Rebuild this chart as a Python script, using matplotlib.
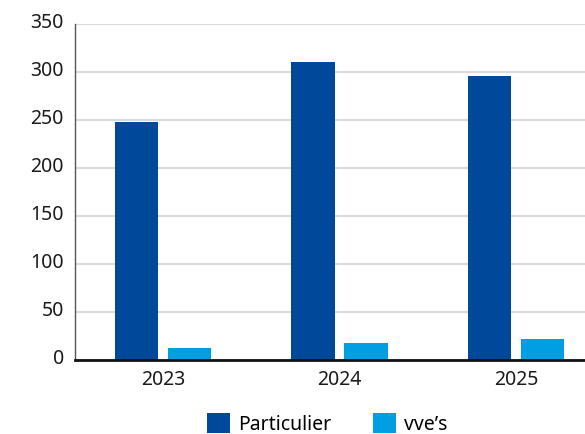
import matplotlib
matplotlib.use("Agg")
import matplotlib.pyplot as plt
import matplotlib.transforms as mtransforms
import numpy as np

categories = ["2023", "2024", "2025"]
particulier = [248, 310, 296]
vves = [12.5, 18, 22]
series_names = ["Particulier", "vve\u2019s"]
colors = ["#00489A", "#009FE3"]
yticks = [0, 50, 100, 150, 200, 250, 300, 350]

plt.rcParams['font.family'] = ['Noto Sans', 'DejaVu Sans']

W, H = 585, 434
fig = plt.figure(figsize=(W/100, H/100), dpi=100)
ax = fig.add_axes([75/W, 1-360/H, 510/W, 336/H])

x = np.arange(len(categories))
bw = 0.244
off = 0.15
b1 = ax.bar(x - off, particulier, bw, color=colors[0], label=series_names[0], zorder=3)
b2 = ax.bar(x + off, vves, bw, color=colors[1], label=series_names[1], zorder=3)

ax.set_xlim(-0.4986, -0.4986 + 510/176.5)
ax.set_ylim(0, 350)
ax.set_yticks(yticks)
ax.set_yticklabels([str(v) for v in yticks], fontsize=14, color="#1a1a1a")
ax.set_xticks(x)
ax.set_xticklabels(categories, fontsize=14, color="#1a1a1a")
ax.tick_params(axis='both', length=0)
ax.tick_params(axis='y', pad=8)
ax.tick_params(axis='x', pad=7)
shift = mtransforms.ScaledTranslation(0, 3/100, fig.dpi_scale_trans)
for lbl in ax.get_yticklabels():
    lbl.set_transform(lbl.get_transform() + shift)

ax.grid(axis='y', color="#d9d9d9", linewidth=1.5, zorder=0)
ax.set_axisbelow(True)
for s in ["top", "right"]:
    ax.spines[s].set_visible(False)
ax.spines["left"].set_color("#555555")
ax.spines["left"].set_linewidth(1.0)
ax.spines["bottom"].set_color("#111111")
ax.spines["bottom"].set_linewidth(2.0)
ax.spines["bottom"].set_zorder(4)

fig.legend(handles=[b1, b2], labels=series_names, loc='center left',
           bbox_to_anchor=(207/W, 1-424/H), ncol=2, frameon=False,
           fontsize=14, handlelength=1.18, handleheight=1.18,
           handletextpad=0.41, columnspacing=2.16, borderpad=0, borderaxespad=0)

fig.savefig("out.png", dpi=100)
